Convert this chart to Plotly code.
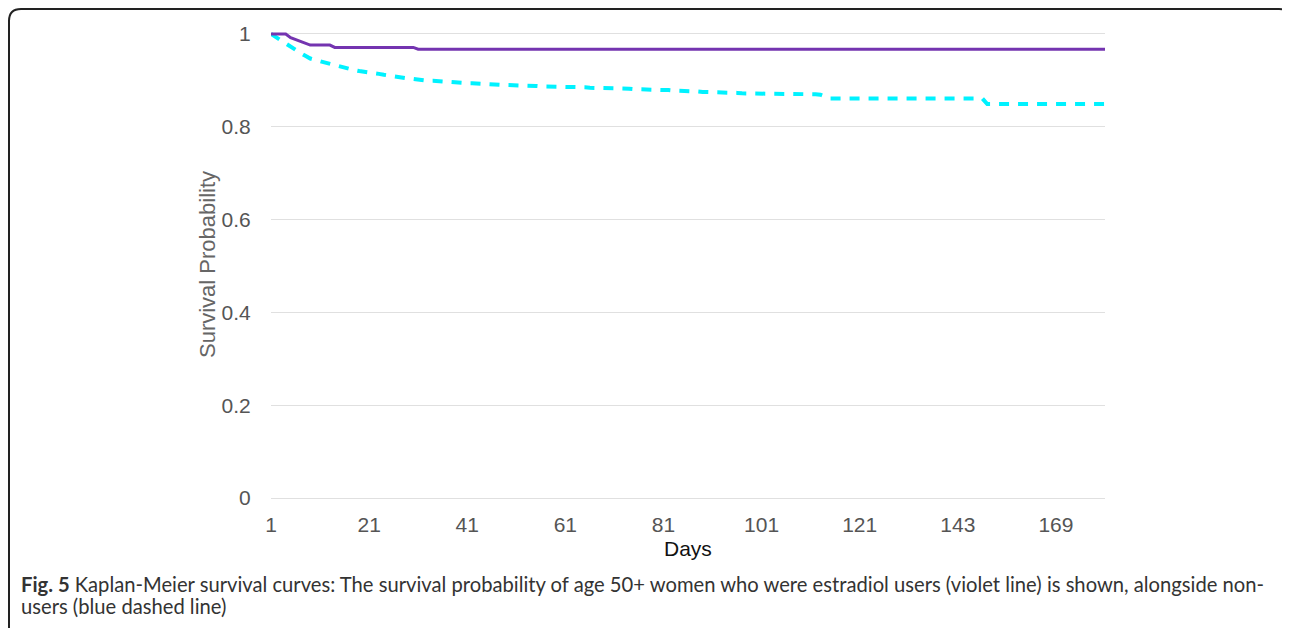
import plotly.graph_objects as go

# ---- data ----
days = list(range(1, 122)) + [
    122, 123, 124, 125, 126, 127, 128, 129, 131, 132, 133, 134, 135, 136, 137, 138, 139, 141, 142, 143,
    144, 145, 146, 148, 149, 150, 151, 153, 154, 155, 157, 158, 159, 161, 162, 163, 165, 166, 167, 169,
    170, 171, 172, 173, 174, 175, 176, 177, 178, 179,
]

users = (
    [1.000, 1.000, 1.000, 1.000, 0.992, 0.988, 0.984, 0.980, 0.976, 0.976,
     0.976, 0.976, 0.976]
    + [0.971] * 17
    + [0.967] * 141
)

non_users = [
    1.000, 0.993, 0.985, 0.978, 0.971, 0.965, 0.959, 0.953, 0.947, 0.944,
    0.941, 0.939, 0.937, 0.933, 0.930, 0.926, 0.923, 0.922, 0.920, 0.919,
    0.918, 0.916, 0.914, 0.912, 0.910, 0.908, 0.907, 0.905, 0.904, 0.903,
    0.901, 0.900, 0.899, 0.899, 0.898, 0.898, 0.898, 0.897, 0.896, 0.895,
    0.894, 0.894, 0.893, 0.892, 0.892, 0.891, 0.891, 0.890, 0.890, 0.890,
    0.889, 0.889, 0.889, 0.888, 0.888, 0.887, 0.887, 0.887, 0.886, 0.886,
    0.886, 0.886, 0.885, 0.885, 0.885, 0.884, 0.884, 0.884, 0.883, 0.883,
    0.883, 0.882, 0.882, 0.882, 0.881, 0.881, 0.881, 0.880, 0.880, 0.879,
    0.879, 0.879, 0.878, 0.878, 0.877, 0.877, 0.876, 0.876, 0.875, 0.875,
    0.874, 0.874, 0.873, 0.873, 0.873, 0.873, 0.872, 0.872, 0.872, 0.872,
    0.872, 0.872, 0.872, 0.872, 0.871, 0.871, 0.871, 0.871, 0.870, 0.870,
    0.870, 0.870, 0.869, 0.865,
] + [0.861] * 32 + [0.849] * 25

x_tick_labels = ["1", "21", "41", "61", "81", "101", "121", "143", "169"]
y_tick_vals = [0, 0.2, 0.4, 0.6, 0.8, 1]
y_tick_text = ["0", "0.2", "0.4", "0.6", "0.8", "1"]

caption_bold = "Fig. 5"
caption_line1 = (" Kaplan-Meier survival curves: The survival probability of age 50+ women "
                 "who were estradiol users (violet line) is shown, alongside non-")
caption_line2 = "users (blue dashed line)"

# ---- layout geometry (screen pixels; page body has an 8px margin) ----
OFF = 8
W, H = 1290 - OFF, 628 - OFF
SL, SR, ST, SB = 271, 1105, 30, 502   # plot area in screen pixels


def px(x):
    return (x - SL) / (SR - SL)


def py(y):
    return (SB - y) / (SB - ST)


x_cats = [str(d) for d in days]

fig = go.Figure()
fig.add_trace(go.Scatter(
    x=x_cats, y=non_users, mode="lines", name="Non-users",
    line=dict(color="#00f2ff", width=4, dash="10px,9px"),
))
fig.add_trace(go.Scatter(
    x=x_cats, y=users, mode="lines", name="Estradiol users",
    line=dict(color="#7434b0", width=3),
))

tick_font = dict(family="Liberation Sans, Arial, sans-serif", size=21, color="#555555")

fig.update_layout(
    width=W, height=H,
    margin=dict(l=SL - OFF, r=W - (SR - OFF), t=ST - OFF, b=H - (SB - OFF), pad=0),
    paper_bgcolor="white", plot_bgcolor="white",
    showlegend=False,
    xaxis=dict(
        type="category", range=[0, len(days) - 1],
        tickmode="array", tickvals=x_tick_labels, ticktext=x_tick_labels,
        showgrid=False, zeroline=False, showline=False,
        ticks="outside", ticklen=4, tickcolor="rgba(0,0,0,0)",
        tickfont=tick_font,
    ),
    yaxis=dict(
        range=[-0.0085, 1.0085],
        tickmode="array", tickvals=y_tick_vals, ticktext=y_tick_text,
        showgrid=True, gridcolor="#e0e0e0", gridwidth=1,
        zeroline=False, showline=False,
        ticks="outside", ticklen=15, tickcolor="rgba(0,0,0,0)",
        tickfont=tick_font,
    ),
)

annotations = [
    dict(text="Days", x=px(688), y=py(548), xref="paper", yref="paper",
         showarrow=False, xanchor="center", yanchor="middle",
         font=dict(family="Liberation Sans, Arial, sans-serif", size=21, color="#111111")),
    dict(text="Survival Probability", x=px(207), y=py(265), xref="paper", yref="paper",
         showarrow=False, xanchor="center", yanchor="middle", textangle=-90,
         font=dict(family="Liberation Sans, Arial, sans-serif", size=22, color="#666666")),
    dict(text="<b>" + caption_bold + "</b>" + caption_line1, x=px(19), y=py(584),
         xref="paper", yref="paper", showarrow=False, xanchor="left", yanchor="middle",
         font=dict(family="Lato, sans-serif", size=20.2, color="#333333")),
    dict(text=caption_line2, x=px(19), y=py(606),
         xref="paper", yref="paper", showarrow=False, xanchor="left", yanchor="middle",
         font=dict(family="Lato, sans-serif", size=20.2, color="#333333")),
]
fig.update_layout(annotations=annotations)

# frame around figure (screen coords)
path = (f"M {px(9)},{py(640)} L {px(9)},{py(21)} Q {px(9)},{py(9)} {px(21)},{py(9)} "
        f"L {px(1279)},{py(9)} Q {px(1289)},{py(9)} {px(1289)},{py(19)} L {px(1289)},{py(640)}")
fig.add_shape(type="path", path=path, xref="paper", yref="paper",
              line=dict(color="#222222", width=2))

fig.write_html("out.html")
